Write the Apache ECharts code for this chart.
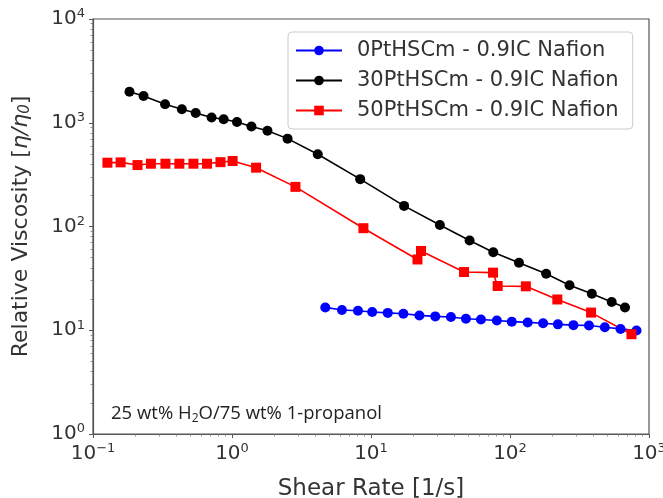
<!DOCTYPE html>
<html>
<head>
<meta charset="utf-8">
<script src="https://cdn.jsdelivr.net/npm/echarts@6/dist/echarts.min.js"></script>
<style>
  html, body { margin: 0; padding: 0; background: #fff; }
  #chart { width: 663px; height: 498px; }
</style>
</head>
<body>
<div id="chart"></div>
<script>
// Shear rate [1/s] and relative viscosity for each ink
const rate0 = [4.69, 6.18, 8.06, 10.2, 13.2, 17.1, 22.3, 29.0, 37.6, 48.2, 61.8, 80.4, 103, 134, 173, 221, 286, 370, 481, 624, 813];
const visc0 = [16.6, 15.7, 15.4, 15.0, 14.7, 14.4, 13.9, 13.6, 13.4, 12.9, 12.7, 12.4, 12.1, 11.9, 11.7, 11.4, 11.2, 11.1, 10.7, 10.3, 9.95];

const rate30 = [0.183, 0.231, 0.330, 0.436, 0.548, 0.713, 0.871, 1.086, 1.38, 1.80, 2.51, 4.14, 8.36, 17.3, 31.3, 51.2, 75.8, 116, 182, 268, 388, 539, 672];
const visc30 = [1992, 1811, 1510, 1348, 1242, 1124, 1082, 1017, 920, 836, 703, 497, 286, 158, 103.4, 73.3, 56.5, 44.8, 35.0, 27.2, 22.5, 18.7, 16.6];

const rate50 = [0.127, 0.158, 0.209, 0.261, 0.332, 0.418, 0.528, 0.661, 0.826, 1.01, 1.49, 2.86, 8.82, 21.6, 22.9, 46.7, 75.5, 81.5, 130, 219, 383, 748];
const visc50 = [412, 415, 391, 403, 403, 403, 403, 403, 417, 428, 369, 241, 96.3, 48.1, 58.1, 36.4, 35.9, 26.7, 26.5, 19.8, 14.8, 9.16];

const seriesNames = ['0PtHSCm - 0.9IC Nafion', '30PtHSCm - 0.9IC Nafion', '50PtHSCm - 0.9IC Nafion'];
const xTickExponents = [-1, 0, 1, 2, 3];
const yTickExponents = [0, 1, 2, 3, 4];
const minorMultipliers = [2, 3, 4, 5, 6, 7, 8, 9];

const zip = (xs, ys) => xs.map((x, i) => [x, ys[i]]);
const FONT = 'DejaVu Sans';

// Intermediate log ticks (2..9 x 10^e) inside each decade
function minorValues(exps) {
  const out = [];
  exps.slice(0, -1).forEach(e => minorMultipliers.forEach(m => out.push(m * Math.pow(10, e))));
  return out;
}

function powerLabel(v) {
  const e = Math.round(Math.log10(v));
  return '{b|10}{s|' + String(e).replace('-', '\u2212') + '}';
}
const powRich = {
  b: { fontFamily: FONT, fontSize: 20, color: '#333' },
  s: { fontFamily: FONT, fontSize: 13, color: '#333', padding: [0, 0, 10, 0] }
};

const chart = echarts.init(document.getElementById('chart'), null, { renderer: 'canvas' });

function lineSeries(name, data, color, symbol, size) {
  return {
    name, type: 'line', data,
    symbol, symbolSize: size,
    itemStyle: { color },
    lineStyle: { color, width: 1.6 },
    emphasis: { disabled: true },
    animation: false
  };
}

const majorAxis = {
  axisLine: { show: true, lineStyle: { color: '#555', width: 1.2 } },
  splitLine: { show: false }
};

function minorAxis(type, min, max, exps) {
  return {
    type: 'log', logBase: 10, min, max,
    axisLine: { show: false },
    axisLabel: { show: false },
    splitLine: { show: false },
    axisTick: { show: true, length: 2.5, customValues: minorValues(exps), lineStyle: { color: '#777', width: 0.8 } }
  };
}

chart.setOption({
  backgroundColor: '#fff',
  animation: false,
  grid: {
    left: 93, right: 14, top: 19, bottom: 64,
    outerBoundsMode: 'none', containLabel: false,
    show: true, borderColor: '#555', borderWidth: 1.2
  },
  xAxis: [
    Object.assign({
      type: 'log', logBase: 10, min: 0.1, max: 1000,
      name: 'Shear Rate [1/s]', nameLocation: 'middle', nameGap: 44,
      nameTextStyle: { fontFamily: FONT, fontSize: 23, color: '#333' },
      axisTick: { show: true, length: 4, customValues: xTickExponents.map(e => Math.pow(10, e)), lineStyle: { color: '#555' } },
      axisLabel: {
        margin: 8, formatter: powerLabel, rich: powRich,
        customValues: xTickExponents.map(e => Math.pow(10, e))
      }
    }, majorAxis),
    Object.assign(minorAxis('x', 0.1, 1000, xTickExponents), { position: 'bottom' })
  ],
  yAxis: [
    Object.assign({
      type: 'log', logBase: 10, min: 1, max: 10000,
      name: 'Relative Viscosity [{i|\u03b7/\u03b7}{sub|0}]', nameLocation: 'middle', nameGap: 60,
      nameTextStyle: {
        fontFamily: FONT, fontSize: 22, color: '#333',
        rich: {
          i: { fontFamily: FONT, fontSize: 22, fontStyle: 'italic', color: '#333' },
          sub: { fontFamily: FONT, fontSize: 15, fontStyle: 'italic', color: '#333', padding: [8, 0, 0, 0] }
        }
      },
      axisTick: { show: true, length: 4, customValues: yTickExponents.map(e => Math.pow(10, e)), lineStyle: { color: '#555' } },
      axisLabel: {
        margin: 8, formatter: powerLabel, rich: powRich,
        customValues: yTickExponents.map(e => Math.pow(10, e))
      }
    }, majorAxis),
    Object.assign(minorAxis('y', 1, 10000, yTickExponents), { position: 'left' })
  ],
  legend: {
    orient: 'vertical', left: 288, top: 32,
    data: seriesNames,
    itemWidth: 46, itemHeight: 12, itemGap: 9,
    padding: [8, 14, 8, 7],
    borderColor: '#ccc', borderWidth: 1, borderRadius: 4,
    backgroundColor: 'rgba(255,255,255,0.85)',
    textStyle: { fontFamily: FONT, fontSize: 21, color: '#333', padding: [0, 0, 0, 10] }
  },
  graphic: [{
    type: 'text', left: 111, top: 404,
    style: {
      text: '25 wt% H{sub|2}O/75 wt% 1-propanol',
      fontFamily: 'Open Sans', fontSize: 18.5, fill: '#222',
      rich: { sub: { fontFamily: 'Open Sans', fontSize: 12, fill: '#222', padding: [11, 0, 0, 0] } }
    }
  }],
  series: [
    lineSeries(seriesNames[0], zip(rate0, visc0), '#0000ff', 'circle', 10),
    lineSeries(seriesNames[1], zip(rate30, visc30), '#000000', 'circle', 10),
    lineSeries(seriesNames[2], zip(rate50, visc50), '#ff0000', 'rect', 10)
  ]
});
</script>
</body>
</html>
